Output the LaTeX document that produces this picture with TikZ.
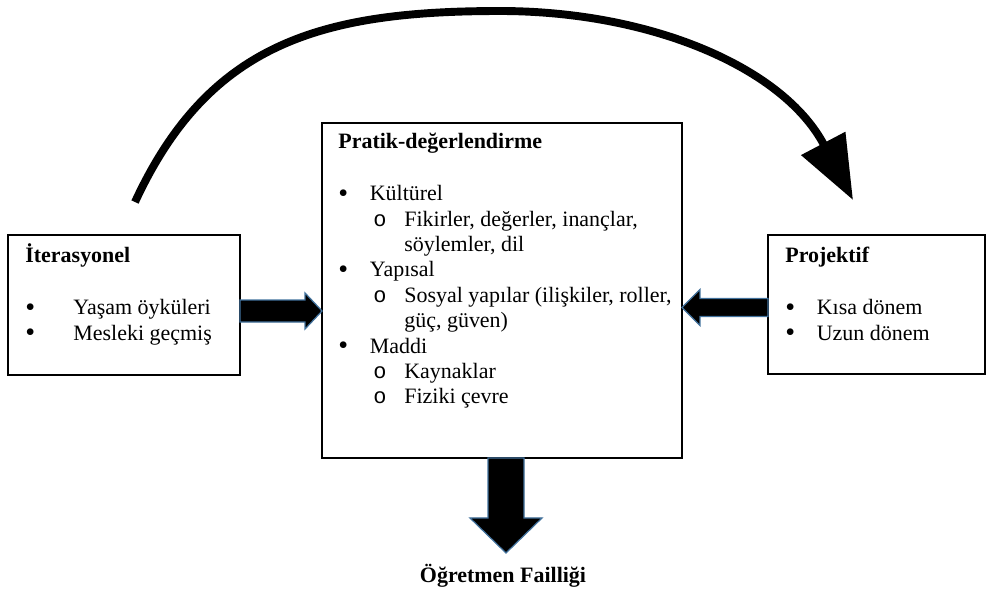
\documentclass[tikz,border=0pt]{standalone}
\usepackage{fontspec}
\setmainfont{Liberation Serif}
\newfontfamily\monof{Liberation Mono}
\usepackage{tikz}
\usetikzlibrary{arrows.meta}
\usetikzlibrary{calc}
\definecolor{outlineblue}{HTML}{41719C}
\tikzstyle{panel}=[draw, line width=1.1pt, inner sep=0pt, outer sep=0pt]
\tikzstyle{panetext}=[anchor=base west, inner sep=0pt, font=\fontsize{12.5}{14.46}\selectfont]
\tikzstyle{fatarrow}=[fill=black, draw=outlineblue, line width=0.7pt, line join=miter]
\tikzstyle{swing}=[line width=4.5pt, -{Triangle[length=1.28cm,width=0.96cm]}]
\newcommand{\bigdot}{\raisebox{-0.8pt}{\fontsize{16}{10}\selectfont •}}
\newcommand{\lvlone}[2][0.63cm]{\makebox[#1][l]{\bigdot}#2}
\newcommand{\lvltwo}[1]{\hspace*{0.70cm}\makebox[0.62cm][l]{\monof o}#1}
\newcommand{\lvlcont}[1]{\hspace*{1.32cm}#1}
\begin{document}
\begin{tikzpicture}[x=0.02cm, y=-0.02cm]
	\useasboundingbox (0,0) rectangle (990,596);
	\node[panel, minimum width=4.64cm, minimum height=2.8cm] (iter) at (124,305) {};
	\node[panel, minimum width=7.2cm, minimum height=6.7cm] (prat) at (502,290.5) {};
	\node[panel, minimum width=4.34cm, minimum height=2.78cm] (proj) at (876.5,304.5) {};
	\node[panetext] (iterText) at ($(iter.north west)+(17,27)$) {\parbox[t]{6cm}{\textbf{İterasyonel}\\[15.5pt]
		\lvlone[0.96cm]{Yaşam öyküleri}\\
		\lvlone[0.96cm]{Mesleki geçmiş}}};
	\node[panetext] (pratText) at ($(prat.north west)+(16,25)$) {\parbox[t]{9cm}{\textbf{Pratik-değerlendirme}\\[15.5pt]
		\lvlone{Kültürel}\\
		\lvltwo{Fikirler, değerler, inançlar,}\\
		\lvlcont{söylemler, dil}\\
		\lvlone{Yapısal}\\
		\lvltwo{Sosyal yapılar (ilişkiler, roller,}\\
		\lvlcont{güç, güven)}\\
		\lvlone{Maddi}\\
		\lvltwo{Kaynaklar}\\
		\lvltwo{Fiziki çevre}}};
	\node[panetext] (projText) at ($(proj.north west)+(17,27)$) {\parbox[t]{6cm}{\textbf{Projektif}\\[15.5pt]
		\lvlone{Kısa dönem}\\
		\lvlone{Uzun dönem}}};
	\coordinate (aL) at ($(iter.east)+(0,6)$);
	\coordinate (tL) at (prat.west |- aL);
	\draw[fatarrow] ($(aL)+(0,-11)$) -- ($(tL)+(-17,-11)$) -- ($(tL)+(-17,-18)$) -- (tL) -- ($(tL)+(-17,18)$) -- ($(tL)+(-17,11)$) -- ($(aL)+(0,11)$) -- cycle;
	\coordinate (aR) at ($(proj.west)+(0,3)$);
	\coordinate (tR) at (prat.east |- aR);
	\draw[fatarrow] ($(aR)+(0,-9)$) -- ($(tR)+(18,-9)$) -- ($(tR)+(18,-18)$) -- (tR) -- ($(tR)+(18,18)$) -- ($(tR)+(18,9)$) -- ($(aR)+(0,9)$) -- cycle;
	\node[anchor=base, inner sep=0pt, font=\bfseries\fontsize{12.5}{14.46}\selectfont] (agency) at ($(prat.south)+(1,125)$) {Öğretmen Failliği};
	\coordinate (aD) at ($(prat.south)+(4,0)$);
	\coordinate (tD) at ($(aD)+(0,95)$);
	\draw[fatarrow] ($(aD)+(-18,0)$) -- ($(tD)+(-18,-35)$) -- ($(tD)+(-36,-35)$) -- (tD) -- ($(tD)+(36,-35)$) -- ($(tD)+(18,-35)$) -- ($(aD)+(18,0)$) -- cycle;
	\coordinate (cS) at ($(iter.north)+(11,-33)$);
	\coordinate (cTop) at (500,11);
	\coordinate (cE) at ($(proj.north)+(-23.5,-35)$);
	\draw[swing] (cS) .. controls +(73.5,-158.7) and +(-180,0) .. (cTop) .. controls +(150,0) and +(-70,-133) .. (cE);
\end{tikzpicture}
\end{document}
